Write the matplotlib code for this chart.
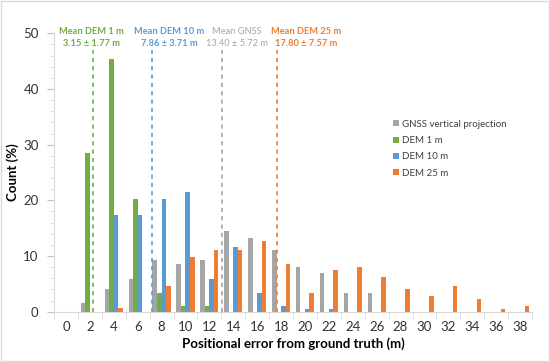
import matplotlib.pyplot as plt
import numpy as np
from matplotlib.patches import Rectangle

plt.rcParams['font.family'] = ['Lato', 'DejaVu Sans']

bins = ['0', '2', '4', '6', '8', '10', '12', '14', '16', '18',
        '20', '22', '24', '26', '28', '30', '32', '34', '36', '38']
gnss = [0, 1.6, 4.0, 5.8, 9.2, 8.6, 9.2, 14.5, 13.3, 11.0,
        8.1, 6.9, 3.4, 3.4, 0, 0, 0, 0, 0, 0]
dem1 = [0, 28.5, 45.3, 20.3, 3.4, 1.1, 1.1, 0, 0, 0,
        0, 0, 0, 0, 0, 0, 0, 0, 0, 0]
dem10 = [0, 0, 17.4, 17.4, 20.3, 21.5, 5.8, 11.6, 3.4, 1.1,
         0.5, 0.5, 0, 0, 0, 0, 0, 0, 0, 0]
dem25 = [0, 0, 0.6, 0, 4.6, 9.8, 11.0, 11.0, 12.7, 8.6,
         3.4, 7.5, 8.1, 6.3, 4.0, 2.8, 4.6, 2.3, 0.5, 1.1]

series_names = ['GNSS vertical projection', 'DEM 1 m', 'DEM 10 m', 'DEM 25 m']
mean_labels = ['Mean DEM 1 m', 'Mean DEM 10 m', 'Mean GNSS', 'Mean DEM 25 m']
mean_vals = [3.15, 7.86, 13.40, 17.80]
std_vals = [1.77, 3.71, 5.72, 7.57]

colors = ['#A5A5A5', '#70AD47', '#5B9BD5', '#ED7D31']
mean_colors = ['#70AD47', '#5B9BD5', '#A5A5A5', '#ED7D31']
text_x = [2.96, 9.19, 14.59, 20.14]  # label centres, in metres on the top axis

fig = plt.figure(figsize=(5.5, 3.62), dpi=100)
fig.patches.append(Rectangle((0.002, 0.003), 0.996, 0.994, transform=fig.transFigure,
                             fill=False, edgecolor='#D9D9D9', linewidth=1))
ax = fig.add_axes([54 / 550, 1 - 311.7 / 362, 478 / 550, (311.7 - 33.3) / 362])

x = np.arange(len(bins))
w = 0.19
for k, (vals, name) in enumerate(zip([gnss, dem1, dem10, dem25], series_names)):
    ax.bar(x + (k - 1.5) * w, vals, w, color=colors[k], label=name)

ax.set_xlim(-0.5, len(bins) - 0.5)
ax.set_ylim(0, 50)
ax.set_xticks(x)
ax.set_xticklabels(bins, fontsize=9.5, color='#333333')
ax.set_xticks(np.arange(-0.5, len(bins), 1), minor=True)
ax.tick_params(axis='x', which='major', length=0, pad=7)
ax.tick_params(axis='x', which='minor', length=5, color='#D9D9D9')
ax.set_yticks(np.arange(0, 51, 10))
ax.set_yticks(np.arange(0, 51, 2), minor=True)
ax.tick_params(axis='y', which='major', length=5, color='#BFBFBF', labelsize=9.5,
               labelcolor='#333333', pad=6)
ax.tick_params(axis='y', which='minor', length=3, color='#D9D9D9')
for s in ['top', 'right']:
    ax.spines[s].set_visible(False)
ax.spines['left'].set_color('#D9D9D9')
ax.spines['bottom'].set_color('#D9D9D9')

ax.set_xlabel('Positional error from ground truth (m)', fontsize=9.5, fontweight='bold',
              labelpad=3)
ax.set_ylabel('Count (%)', fontsize=9.5, fontweight='bold', labelpad=3)

# mean lines on a continuous metre axis
ax2 = ax.twiny()
ax2.set_xlim(0, 38.2)
ax2.axis('off')
for m, s, lab, c, tx in zip(mean_vals, std_vals, mean_labels, mean_colors, text_x):
    ax2.plot([m, m], [0, 47.0], linestyle=(0, (2.5, 2.5)), color=c, linewidth=1.2,
             clip_on=False)
    bold = 'normal' if lab == 'Mean GNSS' else 'bold'
    ax2.text(tx, 50.3, lab, color=c, ha='center', va='center', fontsize=6.7,
             fontweight=bold, clip_on=False)
    ax2.text(tx, 48.2, f'{m:.2f} ± {s:.2f} m', color=c, ha='center', va='center',
             fontsize=6.7, fontweight=bold, clip_on=False)

ax.legend(loc='upper left', bbox_to_anchor=(384 / 550, 1 - 111 / 362),
          bbox_transform=fig.transFigure, frameon=False, fontsize=7,
          handlelength=0.6, handleheight=0.6, handletextpad=0.4, labelspacing=0.75,
          labelcolor='#404040')

fig.savefig('out.png', dpi=100)
